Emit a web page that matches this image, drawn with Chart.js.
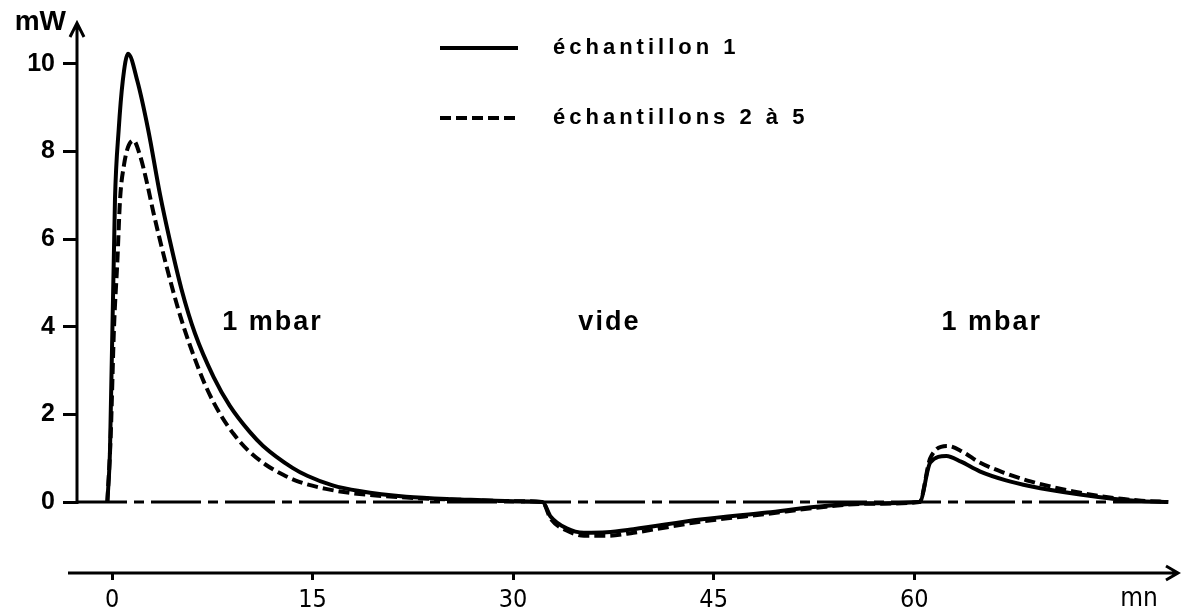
<!DOCTYPE html>
<html>
<head>
<meta charset="utf-8">
<script src="https://cdn.jsdelivr.net/npm/chart.js@4.4.1/dist/chart.umd.min.js"></script>
<style>
  html, body { margin: 0; padding: 0; background: #fff; }
  #wrap { width: 1181px; height: 611px; position: relative; }
</style>
</head>
<body>
<div id="wrap"><canvas id="chart"></canvas></div>
<script>
// time (mn) and power (mW)
const time1 = [-0.35, -0.15, 0.22, 0.5, 0.8, 1.2, 1.9, 2.7, 3.6, 4.3, 5.2, 6.2, 7.6, 8.8, 10.3, 11.3, 13.5, 14.6, 16.5, 18.5, 22, 26, 30, 32.2,
  32.8, 34, 35.3, 37, 39, 44, 49, 52.7, 56.5, 60.4,
  61.2, 62.4, 63.5, 64.9, 66.8, 68.7, 72.4, 75, 77, 79];
const power1 = [0, 1.2, 6.9, 8.5, 9.6, 10.23, 9.6, 8.5, 7.0, 6.0, 4.85, 3.85, 2.85, 2.2, 1.6, 1.28, 0.78, 0.6, 0.38, 0.25, 0.12, 0.06, 0.02, 0,
  -0.33, -0.6, -0.7, -0.69, -0.62, -0.4, -0.24, -0.11, -0.03, 0,
  0.9, 1.05, 0.92, 0.7, 0.5, 0.36, 0.17, 0.07, 0.02, 0];

const time2 = [-0.35, -0.1, 0.15, 0.4, 0.6, 0.9, 1.2, 1.6, 2.1, 2.6, 3.1, 4.1, 5.0, 5.8, 7.0, 8.1, 9.1, 10.1, 11.5, 12.8, 14, 16, 18, 22, 26, 30, 32.2,
  32.8, 34, 35.3, 37, 39, 44, 49, 52.7, 56.5, 60.4,
  61.2, 62.5, 63.6, 64.9, 66.8, 68.7, 71.9, 75, 77, 79];
const power2 = [0, 1.5, 4.0, 5.5, 6.9, 7.7, 8.1, 8.25, 7.9, 7.3, 6.6, 5.35, 4.35, 3.6, 2.65, 2.0, 1.55, 1.2, 0.85, 0.62, 0.46, 0.3, 0.2, 0.1, 0.05, 0.02, 0,
  -0.38, -0.65, -0.77, -0.77, -0.7, -0.45, -0.27, -0.13, -0.04, 0,
  1.0, 1.28, 1.15, 0.9, 0.66, 0.47, 0.24, 0.09, 0.03, 0];

const seriesLabels = ['échantillon 1', 'échantillons 2 à 5'];
const xTicks = [0, 15, 30, 45, 60];
const yTicks = [0, 2, 4, 6, 8, 10];
const zoneLabels = ['1 mbar', 'vide', '1 mbar'];
const zoneTimes = [12, 37.2, 65.8];
const zoneLevel = 4.1;

const toPoints = (xs, ys) => xs.map((t, i) => ({ x: t, y: ys[i] }));

const tickFont = { family: "'Liberation Sans', Arial, sans-serif", size: 25, weight: 'bold' };
const narrowFont = { family: "'Liberation Sans Narrow', 'DejaVu Sans Condensed', 'Liberation Sans', sans-serif", size: 25 };

const axesPlugin = {
  id: 'axes',
  beforeDatasetsDraw(chart) {
    const { ctx, chartArea: a, scales: { y } } = chart;
    const y0 = y.getPixelForValue(0);
    ctx.save();
    ctx.strokeStyle = '#000';
    ctx.lineCap = 'butt';
    // dash-dot zero line
    ctx.lineWidth = 3;
    ctx.setLineDash([50, 7, 10, 7]);
    ctx.beginPath();
    ctx.moveTo(a.left, y0);
    ctx.lineTo(a.right - 8, y0);
    ctx.stroke();
    ctx.setLineDash([]);
    // y axis with arrow
    ctx.lineWidth = 3;
    ctx.beginPath();
    ctx.moveTo(a.left, y0 + 2);
    ctx.lineTo(a.left, a.top);
    ctx.moveTo(a.left - 7, a.top + 14);
    ctx.lineTo(a.left, a.top);
    ctx.lineTo(a.left + 7, a.top + 14);
    ctx.stroke();
    // x axis with arrow
    ctx.beginPath();
    ctx.moveTo(a.left - 9, a.bottom);
    ctx.lineTo(a.right, a.bottom);
    ctx.moveTo(a.right - 12, a.bottom - 7);
    ctx.lineTo(a.right, a.bottom);
    ctx.lineTo(a.right - 12, a.bottom + 7);
    ctx.stroke();
    ctx.restore();
  },
  afterDraw(chart) {
    const { ctx, scales: { x, y } } = chart;
    ctx.save();
    ctx.fillStyle = '#000';
    ctx.strokeStyle = '#000';
    ctx.textBaseline = 'middle';

    // unit labels
    ctx.font = "bold 28px 'Liberation Sans', Arial, sans-serif";
    ctx.textAlign = 'right';
    ctx.fillText('mW', 66, 22);
    ctx.font = "26px 'Liberation Sans Narrow', 'DejaVu Sans Condensed', 'Liberation Sans', sans-serif";
    ctx.textAlign = 'center';
    ctx.fillText('mn', 1139, 599);

    // legend
    const ds = chart.data.datasets;
    const rows = [48, 118];
    ds.forEach((d, i) => {
      ctx.lineWidth = 4;
      ctx.setLineDash(d.borderDash || []);
      ctx.beginPath();
      ctx.moveTo(440, rows[i]);
      ctx.lineTo(518, rows[i]);
      ctx.stroke();
      ctx.setLineDash([]);
      ctx.font = "bold 22px 'Liberation Sans', Arial, sans-serif";
      ctx.letterSpacing = '4px';
      ctx.textAlign = 'left';
      ctx.fillText(d.label, 553, rows[i]);
    });

    // zone labels
    ctx.font = "bold 27px 'Liberation Sans', Arial, sans-serif";
    ctx.letterSpacing = '2px';
    ctx.textAlign = 'center';
    zoneLabels.forEach((txt, i) => {
      ctx.fillText(txt, x.getPixelForValue(zoneTimes[i]), y.getPixelForValue(zoneLevel));
    });
    ctx.restore();
  }
};

new Chart(document.getElementById('chart'), {
  type: 'line',
  data: {
    datasets: [
      {
        label: seriesLabels[0],
        data: toPoints(time1, power1),
        borderColor: '#000',
        borderWidth: 4,
        pointRadius: 0,
        cubicInterpolationMode: 'monotone',
        fill: false,
      },
      {
        label: seriesLabels[1],
        data: toPoints(time2, power2),
        borderColor: '#000',
        borderWidth: 4,
        borderDash: [11, 5],
        pointRadius: 0,
        cubicInterpolationMode: 'monotone',
        fill: false,
      },
    ],
  },
  options: {
    responsive: true,
    maintainAspectRatio: false,
    animation: false,
    devicePixelRatio: 1,
    layout: { padding: { top: 22, right: 3, left: 0, bottom: 0 } },
    plugins: { legend: { display: false }, tooltip: { enabled: false } },
    scales: {
      x: {
        type: 'linear',
        min: -2.62,
        max: 79.73,
        afterBuildTicks: (s) => { s.ticks = xTicks.map((v) => ({ value: v })); },
        afterFit: (s) => { s.height = 38; },
        border: { display: false },
        grid: { display: true, drawOnChartArea: false, drawTicks: true, tickLength: 7, color: '#000', lineWidth: 3 },
        ticks: { color: '#000', font: narrowFont, padding: 5, maxRotation: 0, autoSkip: false },
      },
      y: {
        type: 'linear',
        min: -1.62,
        max: 10.93,
        afterBuildTicks: (s) => { s.ticks = yTicks.map((v) => ({ value: v })); },
        afterFit: (s) => { s.width = 77; },
        border: { display: false },
        grid: { display: true, drawOnChartArea: false, drawTicks: true, tickLength: 14, color: '#000', lineWidth: 3 },
        ticks: { color: '#000', font: tickFont, padding: 8, autoSkip: false },
      },
    },
  },
  plugins: [axesPlugin],
});
</script>
</body>
</html>
